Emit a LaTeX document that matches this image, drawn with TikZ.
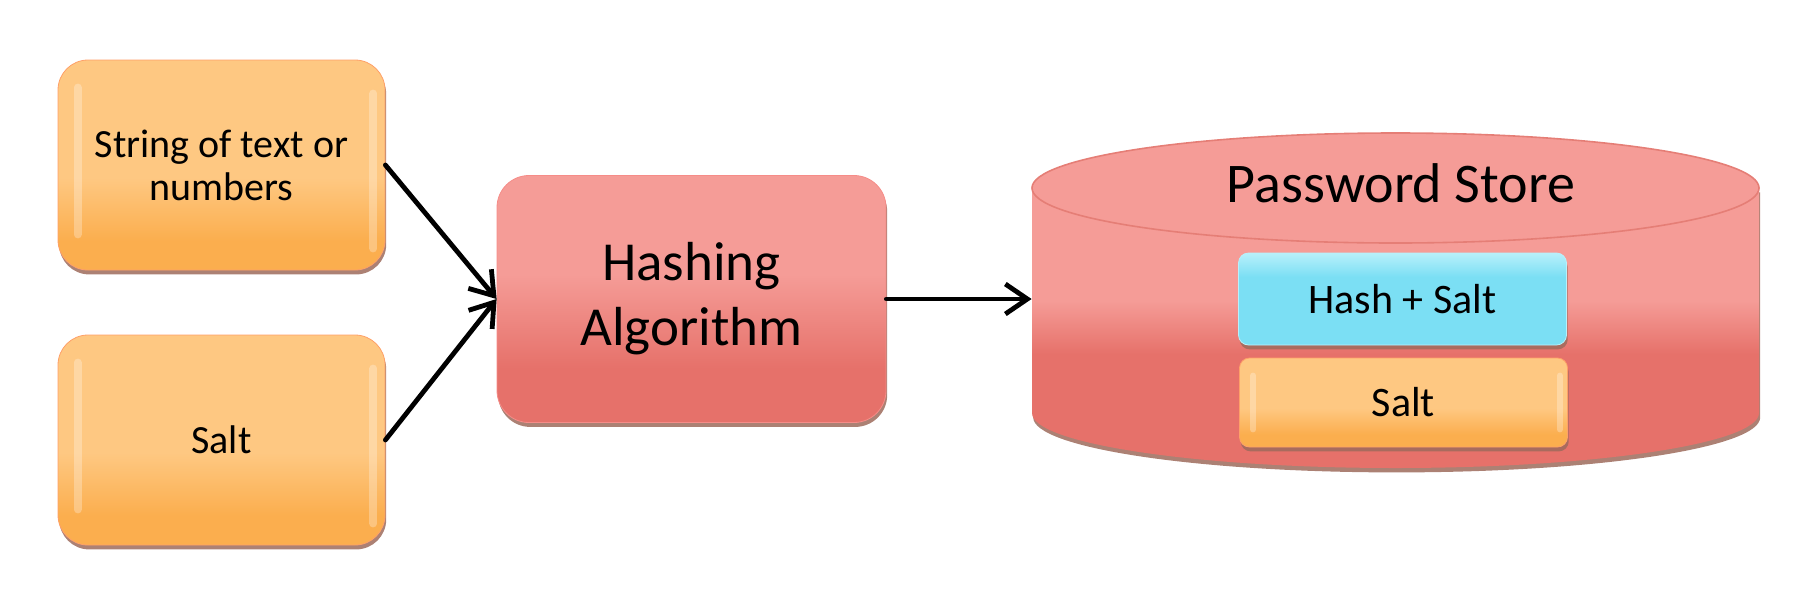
\documentclass[tikz,border=0pt]{standalone}
\usepackage{fontspec}
\setmainfont{Carlito}
\usetikzlibrary{arrows.meta,shadows}
\definecolor{orTop}{HTML}{FEC882}
\definecolor{orBot}{HTML}{FBAE4E}
\definecolor{rdTop}{HTML}{F59C97}
\definecolor{rdBot}{HTML}{E6716A}
\definecolor{rdLine}{HTML}{E57E76}
\definecolor{cyTop}{HTML}{B8F0FB}
\definecolor{cyBot}{HTML}{7BDFF4}
\definecolor{shad}{HTML}{9E6B5C}
\pgfdeclareverticalshading{orsh}{100bp}{color(0bp)=(orBot); color(32bp)=(orBot); color(47bp)=(orTop); color(100bp)=(orTop)}
\pgfdeclareverticalshading{rdsh}{100bp}{color(0bp)=(rdBot); color(36bp)=(rdBot); color(55bp)=(rdTop); color(100bp)=(rdTop)}
\pgfdeclareverticalshading{cylsh}{100bp}{color(0bp)=(rdBot); color(42bp)=(rdBot); color(50bp)=(rdTop); color(100bp)=(rdTop)}
\pgfdeclareverticalshading{cysh}{100bp}{color(0bp)=(cyBot); color(62bp)=(cyBot); color(75bp)=(cyTop); color(100bp)=(cyTop)}
\tikzset{
  box/.style={align=center, inner sep=0pt,
    drop shadow={shadow xshift=0.6pt, shadow yshift=-2.2pt, fill=shad, opacity=0.85}},
  orangebox/.style={box, rounded corners=15pt, shading=orsh, draw=orTop!80!red, line width=0.4pt,
    minimum width=163.5pt, minimum height=105pt, font=\fontsize{20}{21.5}\selectfont},
  hashbox/.style={box, rounded corners=16pt, shading=rdsh, draw=rdTop!90!red, line width=0.4pt,
    minimum width=194.5pt, minimum height=123.5pt, font=\fontsize{27.5}{32.5}\selectfont},
  innerbox/.style={box, rounded corners=5pt, line width=0.4pt,
    minimum width=164pt, font=\fontsize{21}{23}\selectfont},
  hilite/.style={white, opacity=0.28, line width=4pt, line cap=round},
  conn/.style={line width=2.4pt, line cap=round, -{Straight Barb[length=11pt, width=15pt, line width=2.4pt]}}
}
\begin{document}
\begin{tikzpicture}[x=0.5pt, y=-0.5pt]
\useasboundingbox (0,0) rectangle (1814,590);
% left input boxes
\node[orangebox] (str) at (221.5,165) {String of text or\\numbers};
\node[orangebox] (salt) at (221.5,440) {Salt};
\foreach \b in {str,salt}{
  \draw[hilite] ([xshift=10pt,yshift=-14pt]\b.north west) -- ([xshift=10pt,yshift=18pt]\b.south west);
  \draw[hilite] ([xshift=-6pt,yshift=-17pt]\b.north east) -- ([xshift=-6pt,yshift=11pt]\b.south east);
}
% hashing box
\node[hashbox] (hash) at (691.5,299) {Hashing\\Algorithm};
% cylinder (password store)
\fill[shad, opacity=0.85, xshift=0.6pt, yshift=-2.2pt]
  (1032,188) -- (1032,413) arc[start angle=180, end angle=360, x radius=181.75pt, y radius=27.5pt]
  -- (1759,188) -- cycle;
\path[shading=cylsh]
  (1032,188) -- (1032,413) arc[start angle=180, end angle=360, x radius=181.75pt, y radius=27.5pt]
  -- (1759,188) arc[start angle=0, end angle=180, x radius=181.75pt, y radius=27.5pt] -- cycle;
\draw[rdLine, line width=0.8pt, fill=rdTop] (1395.5,188) ellipse[x radius=181.75pt, y radius=27.5pt];
\node[inner sep=0pt, font=\fontsize{28}{30}\selectfont] (title) at (1401,183) {Password Store};
\node[minimum width=363.5pt, minimum height=112pt, inner sep=0pt] (store) at (1395.5,299) {};
\node[innerbox, shading=cysh, draw=cyTop, minimum height=46pt] (hs) at (1402.5,299) {Hash + Salt};
\node[innerbox, shading=orsh, draw=orTop!80!red, minimum height=44.5pt] (salt2) at (1403.5,402.5) {Salt};
\draw[hilite, line width=3pt] ([xshift=7pt,yshift=-9pt]salt2.north west) -- ([xshift=7pt,yshift=9pt]salt2.south west);
\draw[hilite, line width=3pt] ([xshift=-4pt,yshift=-9pt]salt2.north east) -- ([xshift=-4pt,yshift=9pt]salt2.south east);
% connectors
\draw[conn] (str.east) -- (hash.west);
\draw[conn] (salt.east) -- (hash.west);
\draw[conn] (hash.east) -- (store.west);
\end{tikzpicture}
\end{document}
